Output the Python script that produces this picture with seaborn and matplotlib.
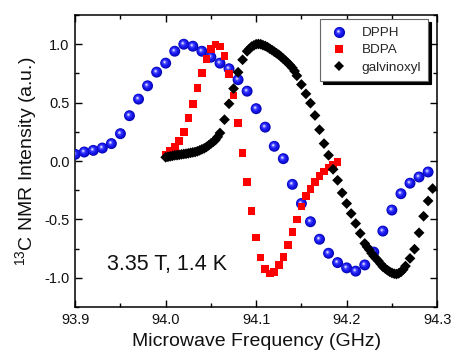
import numpy as np
import pandas as pd
import seaborn as sns
import matplotlib.pyplot as plt
from matplotlib.lines import Line2D
from matplotlib.path import Path
from matplotlib.legend_handler import HandlerTuple
from matplotlib.ticker import MultipleLocator

# DPPH: microwave frequency (GHz) and 13C NMR intensity (a.u.)
dpph_freq = [93.90, 93.91, 93.92, 93.93, 93.94, 93.95, 93.96, 93.97, 93.98, 93.99,
             94.00, 94.01, 94.02, 94.03, 94.04, 94.05, 94.06, 94.07, 94.08, 94.09,
             94.10, 94.11, 94.12, 94.13, 94.14, 94.15, 94.16, 94.17, 94.18, 94.19,
             94.20, 94.21, 94.22, 94.23, 94.24, 94.25, 94.26, 94.27, 94.28, 94.29]
dpph_int = [0.057, 0.077, 0.091, 0.111, 0.149, 0.234, 0.388, 0.53, 0.644, 0.761,
            0.838, 0.94, 1.0, 0.983, 0.94, 0.889, 0.838, 0.79, 0.696, 0.598,
            0.448, 0.29, 0.126, 0.02, -0.2, -0.364, -0.52, -0.67, -0.79, -0.87,
            -0.915, -0.943, -0.89, -0.78, -0.60, -0.42, -0.28, -0.19, -0.137, -0.094]

# BDPA
bdpa_freq = [94.000, 94.005, 94.010, 94.015, 94.020, 94.025, 94.030, 94.035, 94.040, 94.045,
             94.050, 94.055, 94.060, 94.065, 94.070, 94.075, 94.080, 94.085, 94.090, 94.095,
             94.100, 94.105, 94.110, 94.115, 94.120, 94.125, 94.130, 94.135, 94.140, 94.145,
             94.150, 94.155, 94.160, 94.165, 94.170, 94.175, 94.180, 94.185, 94.190]
bdpa_int = [0.057, 0.085, 0.12, 0.171, 0.248, 0.368, 0.49, 0.627, 0.752, 0.872,
            0.957, 0.997, 0.98, 0.90, 0.744, 0.56, 0.325, 0.068, -0.179, -0.427,
            -0.655, -0.826, -0.925, -0.962, -0.95, -0.89, -0.82, -0.72, -0.61, -0.50,
            -0.39, -0.30, -0.24, -0.18, -0.13, -0.09, -0.055, -0.03, -0.01]

# galvinoxyl (denser sampling near the extrema)
galv_freq = [94.000, 94.0025, 94.005, 94.0075, 94.010, 94.0125, 94.015, 94.0175, 94.020, 94.0225,
             94.025, 94.0275, 94.030, 94.0325, 94.035, 94.0375, 94.040, 94.0425, 94.045, 94.0475,
             94.050, 94.0525, 94.055, 94.0575, 94.060, 94.065, 94.070, 94.075, 94.080, 94.085,
             94.090, 94.0925, 94.095, 94.0975, 94.100, 94.1025, 94.105, 94.1075, 94.110, 94.1125,
             94.115, 94.1175, 94.120, 94.1225, 94.125, 94.1275, 94.130, 94.1325, 94.135, 94.1375,
             94.140, 94.1425, 94.145, 94.150, 94.155, 94.160, 94.165, 94.170, 94.175, 94.180,
             94.185, 94.190, 94.195, 94.200, 94.205, 94.210, 94.215, 94.220, 94.2225, 94.225,
             94.2275, 94.230, 94.2325, 94.235, 94.2375, 94.240, 94.2425, 94.245, 94.2475, 94.250,
             94.2525, 94.255, 94.2575, 94.260, 94.2625, 94.265, 94.270, 94.275, 94.280, 94.285,
             94.290, 94.295]
galv_int = [0.032, 0.036, 0.040, 0.044, 0.049, 0.050, 0.053, 0.057, 0.060, 0.062,
            0.066, 0.070, 0.074, 0.077, 0.083, 0.091, 0.100, 0.108, 0.120, 0.134,
            0.150, 0.164, 0.180, 0.207, 0.240, 0.354, 0.490, 0.620, 0.760, 0.867,
            0.940, 0.960, 0.980, 0.990, 1.000, 1.002, 1.000, 0.992, 0.985, 0.975,
            0.962, 0.950, 0.936, 0.923, 0.910, 0.893, 0.876, 0.858, 0.840, 0.820,
            0.798, 0.770, 0.730, 0.655, 0.575, 0.495, 0.390, 0.268, 0.149, 0.049,
            -0.071, -0.165, -0.273, -0.364, -0.450, -0.535, -0.620, -0.706, -0.735, -0.760,
            -0.790, -0.815, -0.835, -0.855, -0.880, -0.905, -0.920, -0.935, -0.948, -0.958,
            -0.965, -0.968, -0.962, -0.950, -0.930, -0.900, -0.834, -0.755, -0.615, -0.473,
            -0.342, -0.236]

x_ticks = [93.9, 94.0, 94.1, 94.2, 94.3]
y_ticks = [-1.0, -0.5, 0.0, 0.5, 1.0]

sns.set_theme(style="ticks")
plt.rcParams["font.family"] = ["Liberation Sans", "DejaVu Sans"]
plt.rcParams["axes.unicode_minus"] = False
plt.rcParams["mathtext.fontset"] = "custom"
plt.rcParams["mathtext.rm"] = "Liberation Sans"
plt.rcParams["mathtext.default"] = "regular"


def highlight_marker(cx, cy, r):
    # small off-centre disc; the lone MOVETO at the corner keeps the marker scale fixed
    circ = Path.circle(center=(cx, cy), radius=r)
    verts = np.vstack([[0.5, -0.5], circ.vertices])
    codes = np.concatenate([[Path.MOVETO], circ.codes])
    return Path(verts, codes)


dpph = pd.DataFrame({"freq": dpph_freq, "intensity": dpph_int})
bdpa = pd.DataFrame({"freq": bdpa_freq, "intensity": bdpa_int})
galv = pd.DataFrame({"freq": galv_freq, "intensity": galv_int})

fig = plt.figure(figsize=(4.53, 3.58), dpi=100)
ax = fig.add_axes([0.166, 0.1425, 0.799, 0.8155])

# DPPH drawn as shaded spheres
sphere_size = 62
sphere_layers = [
    ("o", sphere_size, "#0606b4"),
    (highlight_marker(-0.03, 0.03, 0.42), sphere_size, "#1414e6"),
    (highlight_marker(-0.07, 0.07, 0.28), sphere_size, "#3434ff"),
    (highlight_marker(-0.09, 0.09, 0.15), sphere_size, "#8a8aff"),
    (highlight_marker(-0.10, 0.10, 0.07), sphere_size, "#e6e6ff"),
]
for mk, size, col in sphere_layers:
    sns.scatterplot(data=dpph, x="freq", y="intensity", ax=ax, marker=mk, s=size, color=col,
                    edgecolor="none", linewidth=0, legend=False, zorder=3)
sns.scatterplot(data=bdpa, x="freq", y="intensity", ax=ax, marker="s", s=30,
                color="#ff0000", edgecolor="none", linewidth=0, legend=False, zorder=4)
sns.scatterplot(data=galv, x="freq", y="intensity", ax=ax, marker="D", s=30,
                color="black", edgecolor="none", linewidth=0, legend=False, zorder=5)

ax.set_xlim(93.9, 94.3)
ax.set_ylim(-1.25, 1.25)
ax.set_xticks(x_ticks)
ax.set_yticks(y_ticks)
ax.set_xticklabels([f"{t:.1f}" for t in x_ticks])
ax.set_yticklabels([f"{t:.1f}" for t in y_ticks])
ax.xaxis.set_minor_locator(MultipleLocator(0.05))
ax.yaxis.set_minor_locator(MultipleLocator(0.25))
ax.tick_params(which="both", direction="in", top=True, right=True, width=1, color="black")
ax.tick_params(which="major", length=5, labelsize=10.5, labelcolor="#111111", pad=4)
ax.tick_params(which="minor", length=3)
for sp in ax.spines.values():
    sp.set_linewidth(1.1)
    sp.set_color("black")

ax.set_xlabel("Microwave Frequency (GHz)", fontsize=14, color="#111111", labelpad=5)
ax.set_ylabel(r"$^{13}$C NMR Intensity (a.u.)", fontsize=14, color="#111111", labelpad=4)

ax.text(93.935, -0.89, "3.35 T, 1.4 K", fontsize=15.5, color="#111111", va="center")

# legend
h_dpph = tuple(Line2D([], [], linestyle="none", marker=mk, markersize=8, color=col, markeredgewidth=0)
               for mk, _, col in sphere_layers)
h_bdpa = Line2D([], [], linestyle="none", marker="s", markersize=5.5, color="#ff0000", markeredgewidth=0)
h_galv = Line2D([], [], linestyle="none", marker="D", markersize=5.5, color="black", markeredgewidth=0)
leg = ax.legend([h_dpph, h_bdpa, h_galv], ["DPPH", "BDPA", "galvinoxyl"],
                handler_map={tuple: HandlerTuple(ndivide=1, pad=0)},
                loc="upper right", bbox_to_anchor=(0.976, 0.985), borderaxespad=0,
                fontsize=9.7, frameon=True, fancybox=False, shadow={"color": "black", "alpha": 1},
                handlelength=1.6, handletextpad=0.9, borderpad=0.55, labelspacing=0.35)
leg.get_frame().set_edgecolor("#666666")
leg.get_frame().set_linewidth(0.8)
leg.get_frame().set_alpha(1)

fig.savefig("out.png", dpi=100)
